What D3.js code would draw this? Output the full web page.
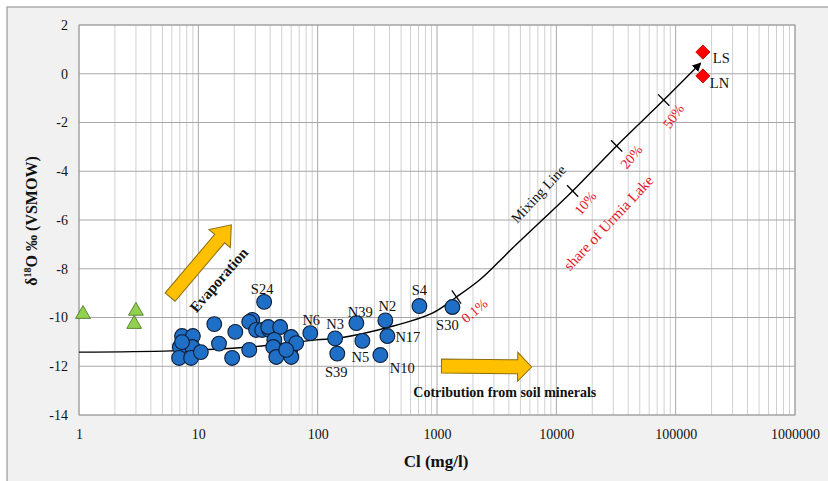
<!DOCTYPE html>
<html>
<head>
<meta charset="utf-8">
<script src="https://cdn.jsdelivr.net/npm/d3@7"></script>
<style>
  body { margin: 0; background: #fff; }
  text { font-family: "Liberation Serif", "Times New Roman", serif; }
</style>
</head>
<body>
<svg id="chart" width="828" height="481"></svg>
<script>
// ---------------- DATA ----------------
const xTicks = [1, 10, 100, 1000, 10000, 100000, 1000000];
const yTicks = [-14, -12, -10, -8, -6, -4, -2, 0, 2];

// groundwater samples (blue circles)
const gwCl = [7.3, 9.0, 7.0, 8.9, 7.3, 6.9, 8.7, 10.5,
              13.6, 20.4, 14.9, 19.2, 26.7, 35.6, 28.3, 26.7, 30.5, 34.3, 39.3, 38.5, 48.5,
              43.3, 42.4, 45.0, 60.1, 58.9, 60.1, 66.1, 54.5,
              86.7, 140, 146, 211, 237, 369, 384, 335, 712, 1346];
const gwD18O = [-10.76, -10.76, -11.21, -11.21, -11.01, -11.66, -11.66, -11.42,
                -10.27, -10.59, -11.07, -11.66, -11.33, -9.36, -10.10, -10.18, -10.51, -10.51, -10.51, -10.39, -10.39,
                -10.92, -11.21, -11.62, -10.80, -11.33, -11.62, -11.05, -11.33,
                -10.64, -10.86, -11.48, -10.23, -10.96, -10.12, -10.76, -11.54, -9.53, -9.57];
const gwName = ["", "", "", "", "", "", "", "",
                "", "", "", "", "", "S24", "", "", "", "", "", "", "",
                "", "", "", "", "", "", "", "",
                "N6", "N3", "S39", "N39", "N5", "N2", "N17", "N10", "S4", "S30"];

// precipitation / other (green triangles)
const triCl = [1.08, 3.0, 2.9];
const triD18O = [-9.82, -9.69, -10.23];

// Urmia Lake (red diamonds)
const lakeCl = [169000, 169000];
const lakeD18O = [0.89, -0.09];
const lakeName = ["LS", "LN"];

// mixing line
const mixCl = [1, 6, 26.7, 97, 152, 400, 915, 1455, 2270, 3345, 4300, 13700, 32000, 79400, 162000];
const mixD18O = [-11.42, -11.37, -11.21, -10.92, -10.84, -10.39, -9.82, -9.16, -8.46, -7.68, -7.15, -4.81, -2.96, -1.08, 0.44];

// share-of-lake marks on mixing line
const shareLabel = ["0.1%", "10%", "20%", "50%"];
const shareCl = [1455, 13700, 32000, 79400];
const shareD18O = [-9.16, -4.81, -2.96, -1.08];

// ---------------- LAYOUT / STYLE ----------------
const labelOffsets = {
  S24: [-2, -8, "middle"], N6: [1, -8, "middle"], N3: [0, -9, "middle"],
  S39: [-1, 23, "middle"], N39: [4, -6, "middle"], N5: [-2, 21, "middle"],
  N2: [2, -9, "middle"], N17: [8, 6, "start"], N10: [22, 18, "middle"],
  S4: [0, -11, "middle"], S30: [-5, 23, "middle"],
  LS: [10, 11, "start"], LN: [7, 12, "start"]
};
const shareOffsets = [[19, 15, -40], [14, 13, -50], [16, 12, -50], [11, 17, -55]];

const svg = d3.select("#chart");
const W = 828, H = 481;
const pL = 79, pR = 795, pT = 25, pB = 415;

// outer panel
svg.append("rect").attr("x", 7).attr("y", 7).attr("width", W + 10).attr("height", H + 10)
  .attr("fill", "#f1f1f1").attr("stroke", "#9a9a9a").attr("stroke-width", 1.2);

const x = d3.scaleLog().domain([1, 1e6]).range([pL, pR]);
const y = d3.scaleLinear().domain([-14, 2]).range([pB, pT]);

// plot area
svg.append("rect").attr("x", pL).attr("y", pT).attr("width", pR - pL).attr("height", pB - pT)
  .attr("fill", "#ffffff");

// grid
const minor = [];
for (let d = 0; d < 6; d++) for (let m = 2; m <= 9; m++) minor.push(m * Math.pow(10, d));
const g = svg.append("g");
g.selectAll(".vmin").data(minor).join("line")
  .attr("x1", d => x(d)).attr("x2", d => x(d)).attr("y1", pT).attr("y2", pB)
  .attr("stroke", "#d0d0d0").attr("stroke-width", 1);
g.selectAll(".vmaj").data(xTicks).join("line")
  .attr("x1", d => x(d)).attr("x2", d => x(d)).attr("y1", pT).attr("y2", pB)
  .attr("stroke", "#a8a8a8").attr("stroke-width", 1);
g.selectAll(".hmaj").data(yTicks).join("line")
  .attr("x1", pL).attr("x2", pR).attr("y1", d => y(d)).attr("y2", d => y(d))
  .attr("stroke", "#a8a8a8").attr("stroke-width", 1);
svg.append("rect").attr("x", pL).attr("y", pT).attr("width", pR - pL).attr("height", pB - pT)
  .attr("fill", "none").attr("stroke", "#a0a0a0").attr("stroke-width", 1);

// axes tick labels
const xAxis = d3.axisBottom(x).tickValues(xTicks).tickFormat(d3.format("d")).tickSize(0).tickPadding(14);
svg.append("g").attr("transform", `translate(0,${pB})`).call(xAxis)
  .call(s => s.select(".domain").remove())
  .selectAll("text").attr("font-size", 14).attr("font-family", "Liberation Serif").attr("fill", "#111");
const yAxis = d3.axisLeft(y).tickValues(yTicks).tickFormat(d => d).tickSize(0).tickPadding(11);
svg.append("g").attr("transform", `translate(${pL},0)`).call(yAxis)
  .call(s => s.select(".domain").remove())
  .selectAll("text").attr("font-size", 14).attr("font-family", "Liberation Serif").attr("fill", "#111");

// axis titles
svg.append("text").attr("x", (pL + pR) / 2 - 1).attr("y", 467).attr("text-anchor", "middle")
  .attr("font-size", 17).attr("font-weight", "bold").attr("fill", "#111").text("Cl (mg/l)");
const yt = svg.append("text").attr("transform", "translate(37,221) rotate(-90)")
  .attr("text-anchor", "middle").attr("font-size", 16).attr("font-weight", "bold").attr("fill", "#111");
yt.append("tspan").text("δ");
yt.append("tspan").attr("font-size", 10).attr("dy", -6).text("18");
yt.append("tspan").attr("dy", 6).text("O ‰ (VSMOW)");

// block arrows
function blockArrow(x0, y0, x1, y1, sw, hw, hl) {
  const L = Math.hypot(x1 - x0, y1 - y0);
  const ang = Math.atan2(y1 - y0, x1 - x0) * 180 / Math.PI;
  const pts = [[0, -sw / 2], [L - hl, -sw / 2], [L - hl, -hw / 2], [L, 0], [L - hl, hw / 2], [L - hl, sw / 2], [0, sw / 2]];
  svg.append("polygon").attr("points", pts.map(p => p.join(",")).join(" "))
    .attr("transform", `translate(${x0},${y0}) rotate(${ang})`)
    .attr("fill", "#FFC000").attr("stroke", "#8c6d10").attr("stroke-width", 1);
}
blockArrow(x(5.8), y(-9.16), x(18.9), y(-6.2), 13, 28, 18);
blockArrow(x(1090), y(-11.99), x(6210), y(-12.03), 14, 29, 14);

svg.append("text").attr("transform", `translate(${x(5.8) + 50},${y(-9.16) - 16}) rotate(-49)`)
  .attr("text-anchor", "middle").attr("dominant-baseline", "middle")
  .attr("font-size", 15).attr("font-weight", "bold").attr("fill", "#111").text("Evaporation");
svg.append("text").attr("x", x(3700)).attr("y", 397).attr("text-anchor", "middle")
  .attr("font-size", 14).attr("font-weight", "bold").attr("fill", "#111").text("Cotribution from soil minerals");

// mixing line
const defs = svg.append("defs");
defs.append("marker").attr("id", "ah").attr("viewBox", "0 0 10 10").attr("refX", 9).attr("refY", 5)
  .attr("markerWidth", 9).attr("markerHeight", 9).attr("orient", "auto").attr("markerUnits", "userSpaceOnUse")
  .append("path").attr("d", "M0,0 L10,5 L0,10 z").attr("fill", "#000");
const mix = mixCl.map((c, i) => [x(c), y(mixD18O[i])]);
svg.append("path").attr("d", d3.line().curve(d3.curveCatmullRom.alpha(0.5))(mix))
  .attr("fill", "none").attr("stroke", "#000").attr("stroke-width", 1.4).attr("marker-end", "url(#ah)");

// share ticks
shareCl.forEach((c, i) => {
  const px = x(c), py = y(shareD18O[i]);
  const j = mixCl.indexOf(c);
  const a = mix[Math.max(0, j - 1)], b = mix[Math.min(mix.length - 1, j + 1)];
  const ang = Math.atan2(b[1] - a[1], b[0] - a[0]);
  const nx = -Math.sin(ang), ny = Math.cos(ang);
  svg.append("line").attr("x1", px - nx * 8).attr("y1", py - ny * 8).attr("x2", px + nx * 8).attr("y2", py + ny * 8)
    .attr("stroke", "#000").attr("stroke-width", 1.3);
  const o = shareOffsets[i];
  svg.append("text").attr("transform", `translate(${px + o[0]},${py + o[1]}) rotate(${o[2]})`)
    .attr("text-anchor", "middle").attr("dominant-baseline", "middle")
    .attr("font-size", 14).attr("fill", "#e8141e").text(shareLabel[i]);
});

svg.append("text").attr("transform", `translate(${x(4300) + 27},${y(-7.15) - 53}) rotate(-47)`)
  .attr("text-anchor", "middle").attr("dominant-baseline", "middle")
  .attr("font-size", 14.5).attr("fill", "#111").text("Mixing Line");
svg.append("text").attr("transform", `translate(${x(13700) + 37},${y(-4.81) + 33}) rotate(-47)`)
  .attr("text-anchor", "middle").attr("dominant-baseline", "middle")
  .attr("font-size", 15).attr("fill", "#e8141e").text("share of Urmia Lake");

// triangles
svg.selectAll(".tri").data(triCl).join("path")
  .attr("d", d3.symbol().type(d3.symbolTriangle).size(95))
  .attr("transform", (d, i) => `translate(${x(d)},${y(triD18O[i]) + 1})`)
  .attr("fill", "#92d050").attr("stroke", "#4f7a28").attr("stroke-width", 0.9);

// groundwater circles
svg.selectAll(".gw").data(gwCl).join("circle")
  .attr("cx", d => x(d)).attr("cy", (d, i) => y(gwD18O[i])).attr("r", 7.4)
  .attr("fill", "#1f6fc6").attr("stroke", "#0e1e36").attr("stroke-width", 1.1);

// diamonds
svg.selectAll(".lk").data(lakeCl).join("rect")
  .attr("x", -5).attr("y", -5).attr("width", 10).attr("height", 10)
  .attr("transform", (d, i) => `translate(${x(d)},${y(lakeD18O[i])}) rotate(45)`)
  .attr("fill", "#ff0000").attr("stroke", "#b00000").attr("stroke-width", 0.8);

// labels
function addLabel(name, px, py) {
  const o = labelOffsets[name];
  if (!o) return;
  svg.append("text").attr("x", px + o[0]).attr("y", py + o[1]).attr("text-anchor", o[2])
    .attr("font-size", 14.5).attr("fill", "#111").text(name);
}
gwName.forEach((n, i) => { if (n) addLabel(n, x(gwCl[i]), y(gwD18O[i])); });
lakeName.forEach((n, i) => addLabel(n, x(lakeCl[i]), y(lakeD18O[i])));
</script>
</body>
</html>
